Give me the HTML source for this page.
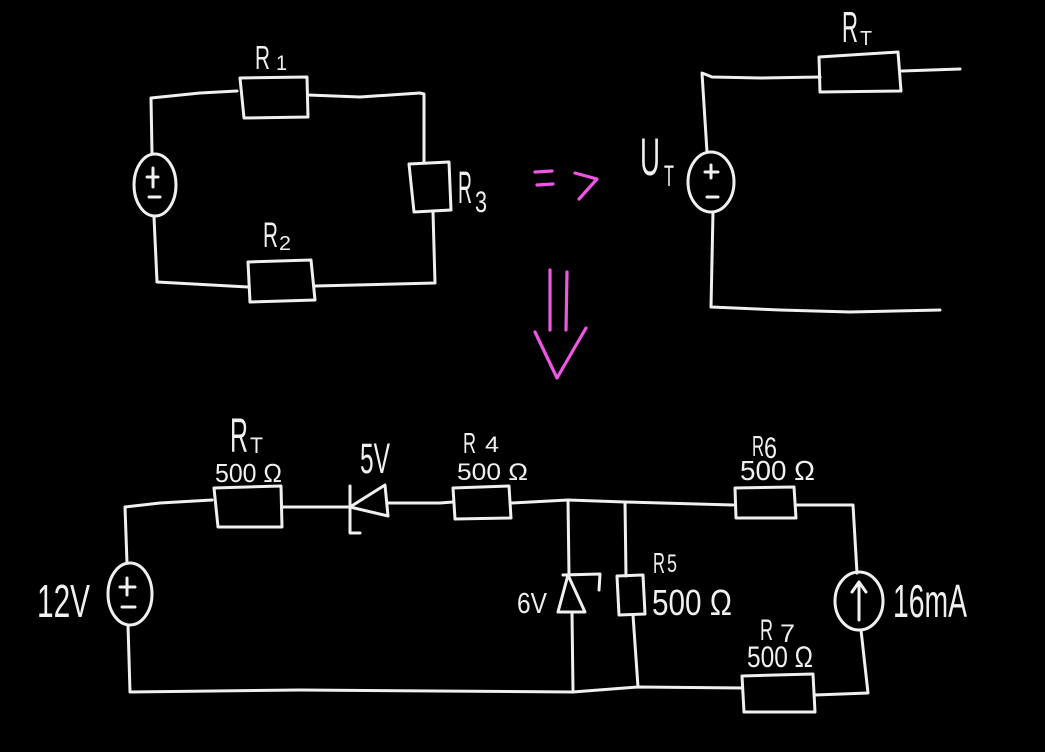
<!DOCTYPE html>
<html>
<head>
<meta charset="utf-8">
<style>
  html,body{margin:0;padding:0;background:#000;}
  svg{display:block;}
  .w{fill:none;stroke:#f0f0f0;stroke-width:3;stroke-linecap:round;stroke-linejoin:round;}
  .p{fill:none;stroke:#f055e6;stroke-width:3.2;stroke-linecap:round;stroke-linejoin:round;}
  text{fill:#f0f0f0;font-family:"Liberation Sans Narrow","Liberation Sans",sans-serif;}
</style>
</head>
<body>
<svg width="1045" height="752" viewBox="0 0 1045 752" xmlns="http://www.w3.org/2000/svg">
  <rect width="1045" height="752" fill="#000"/>

  <!-- ===== Top-left circuit ===== -->
  <path class="w" d="M237,91 L200,93 L151,98 L152,153"/>
  <path class="w" d="M240,78 L307,77 L308,117 L244,118 Z"/>
  <path class="w" d="M308,95 L360,97 L420,93 L424,94 L424,162"/>
  <path class="w" d="M409,164 L449,162 L451,210 L414,212 Z"/>
  <path class="w" d="M433,212 L435,283 L315,286"/>
  <path class="w" d="M248,262 L311,260 L315,300 L250,302 Z"/>
  <path class="w" d="M248,287 L157,282 L154,217"/>
  <ellipse class="w" cx="155" cy="185" rx="21" ry="31"/>
  <path class="w" d="M153,168 L153,187 M147,177 L158,177 M149,197 L160,197"/>

  <text x="255" y="69" font-size="33" textLength="15" lengthAdjust="spacingAndGlyphs">R</text>
  <text x="276" y="70" font-size="21" textLength="11" lengthAdjust="spacingAndGlyphs">1</text>
  <text x="458" y="203" font-size="45" textLength="14" lengthAdjust="spacingAndGlyphs">R</text>
  <text x="475" y="212" font-size="30" textLength="12" lengthAdjust="spacingAndGlyphs">3</text>
  <text x="263" y="247" font-size="35" textLength="15" lengthAdjust="spacingAndGlyphs">R</text>
  <text x="279" y="250" font-size="20" textLength="12" lengthAdjust="spacingAndGlyphs">2</text>

  <!-- ===== Pink arrows ===== -->
  <path class="p" d="M535,172 L552,171 M537,185 L553,184"/>
  <path class="p" d="M575,173 L597,179 L579,199"/>
  <path class="p" d="M550,270 L550,330 M567,272 L566,330"/>
  <path class="p" d="M535,332 L557,378 L586,328"/>

  <!-- ===== Top-right circuit ===== -->
  <path class="w" d="M820,77 L760,78 L712,77 L702,73 L707,152"/>
  <path class="w" d="M819,57 L898,52 L901,91 L820,92 Z"/>
  <path class="w" d="M902,71 L960,69"/>
  <ellipse class="w" cx="711" cy="182" rx="23" ry="30"/>
  <path class="w" d="M711,165 L711,178 M705,172 L718,172 M707,197 L718,197"/>
  <path class="w" d="M713,212 L711,307 L780,310 L850,312 L940,310"/>

  <text x="640" y="175" font-size="53" textLength="20" lengthAdjust="spacingAndGlyphs">U</text>
  <text x="664" y="186" font-size="30" textLength="10" lengthAdjust="spacingAndGlyphs">T</text>
  <text x="842" y="42" font-size="44" textLength="16" lengthAdjust="spacingAndGlyphs">R</text>
  <text x="860" y="45" font-size="20" textLength="12" lengthAdjust="spacingAndGlyphs">T</text>

  <!-- ===== Bottom circuit ===== -->
  <path class="w" d="M212,500 L160,503 L125,507 L127,563"/>
  <ellipse class="w" cx="130" cy="594" rx="22" ry="31"/>
  <path class="w" d="M127,578 L127,595 M120,587 L135,587 M122,607 L135,607"/>
  <path class="w" d="M128,625 L130,692 L300,690 L573,692"/>

  <path class="w" d="M214,488 L281,486 L282,527 L218,527 Z"/>
  <path class="w" d="M283,507 L348,507"/>
  <path class="w" d="M350,486 L350,533 L360,533"/>
  <path class="w" d="M350,507 L385,485 L388,516 Z"/>
  <path class="w" d="M388,503 L440,503 L453,502"/>
  <path class="w" d="M453,488 L509,486 L511,518 L455,519 Z"/>
  <path class="w" d="M512,503 L568,500 L625,502 L733,505"/>
  <path class="w" d="M735,488 L794,487 L796,518 L736,518 Z"/>
  <path class="w" d="M796,505 L853,505 L857,573"/>

  <ellipse class="w" cx="859" cy="601" rx="24" ry="29"/>
  <path class="w" d="M859,620 L859,583 M852,592 L859,582 L866,592"/>
  <path class="w" d="M861,630 L868,693 L815,695"/>
  <path class="w" d="M742,676 L813,674 L815,712 L744,712 Z"/>
  <path class="w" d="M742,688 L638,687 L573,692"/>

  <!-- Zener -->
  <path class="w" d="M568,500 L569,575"/>
  <path class="w" d="M568,575 L558,612 L585,612 Z"/>
  <path class="w" d="M563,575 L600,574 L599,590"/>
  <path class="w" d="M572,612 L573,692"/>

  <!-- R5 -->
  <path class="w" d="M625,502 L626,576"/>
  <path class="w" d="M617,576 L643,575 L645,614 L619,615 Z"/>
  <path class="w" d="M633,615 L638,687"/>

  <!-- Labels bottom -->
  <text x="230" y="452" font-size="48" textLength="18" lengthAdjust="spacingAndGlyphs">R</text>
  <text x="250" y="453" font-size="22" textLength="13" lengthAdjust="spacingAndGlyphs">T</text>
  <text x="215" y="482" font-size="26" textLength="67" lengthAdjust="spacingAndGlyphs">500 Ω</text>

  <text x="360" y="473" font-size="43" textLength="30" lengthAdjust="spacingAndGlyphs">5V</text>

  <text x="463" y="453" font-size="29" textLength="13" lengthAdjust="spacingAndGlyphs">R</text>
  <text x="485" y="452" font-size="22" textLength="14" lengthAdjust="spacingAndGlyphs">4</text>
  <text x="457" y="480" font-size="24" textLength="71" lengthAdjust="spacingAndGlyphs">500 Ω</text>

  <text x="752" y="456" font-size="29" textLength="12" lengthAdjust="spacingAndGlyphs">R</text>
  <text x="764" y="458" font-size="30" textLength="13" lengthAdjust="spacingAndGlyphs">6</text>
  <text x="740" y="480" font-size="28" textLength="75" lengthAdjust="spacingAndGlyphs">500 Ω</text>

  <text x="653" y="573" font-size="29" textLength="12" lengthAdjust="spacingAndGlyphs">R</text>
  <text x="667" y="572" font-size="25" textLength="10" lengthAdjust="spacingAndGlyphs">5</text>
  <text x="652" y="615" font-size="36" textLength="80" lengthAdjust="spacingAndGlyphs">500  Ω</text>

  <text x="760" y="640" font-size="30" textLength="13" lengthAdjust="spacingAndGlyphs">R</text>
  <text x="780" y="642" font-size="25" textLength="15" lengthAdjust="spacingAndGlyphs">7</text>
  <text x="747" y="667" font-size="30" textLength="66" lengthAdjust="spacingAndGlyphs">500 Ω</text>

  <text x="517" y="613" font-size="29" textLength="30" lengthAdjust="spacingAndGlyphs">6V</text>
  <text x="37" y="617" font-size="46" textLength="53" lengthAdjust="spacingAndGlyphs">12V</text>
  <text x="893" y="617" font-size="46" textLength="74" lengthAdjust="spacingAndGlyphs">16mA</text>
</svg>
</body>
</html>
